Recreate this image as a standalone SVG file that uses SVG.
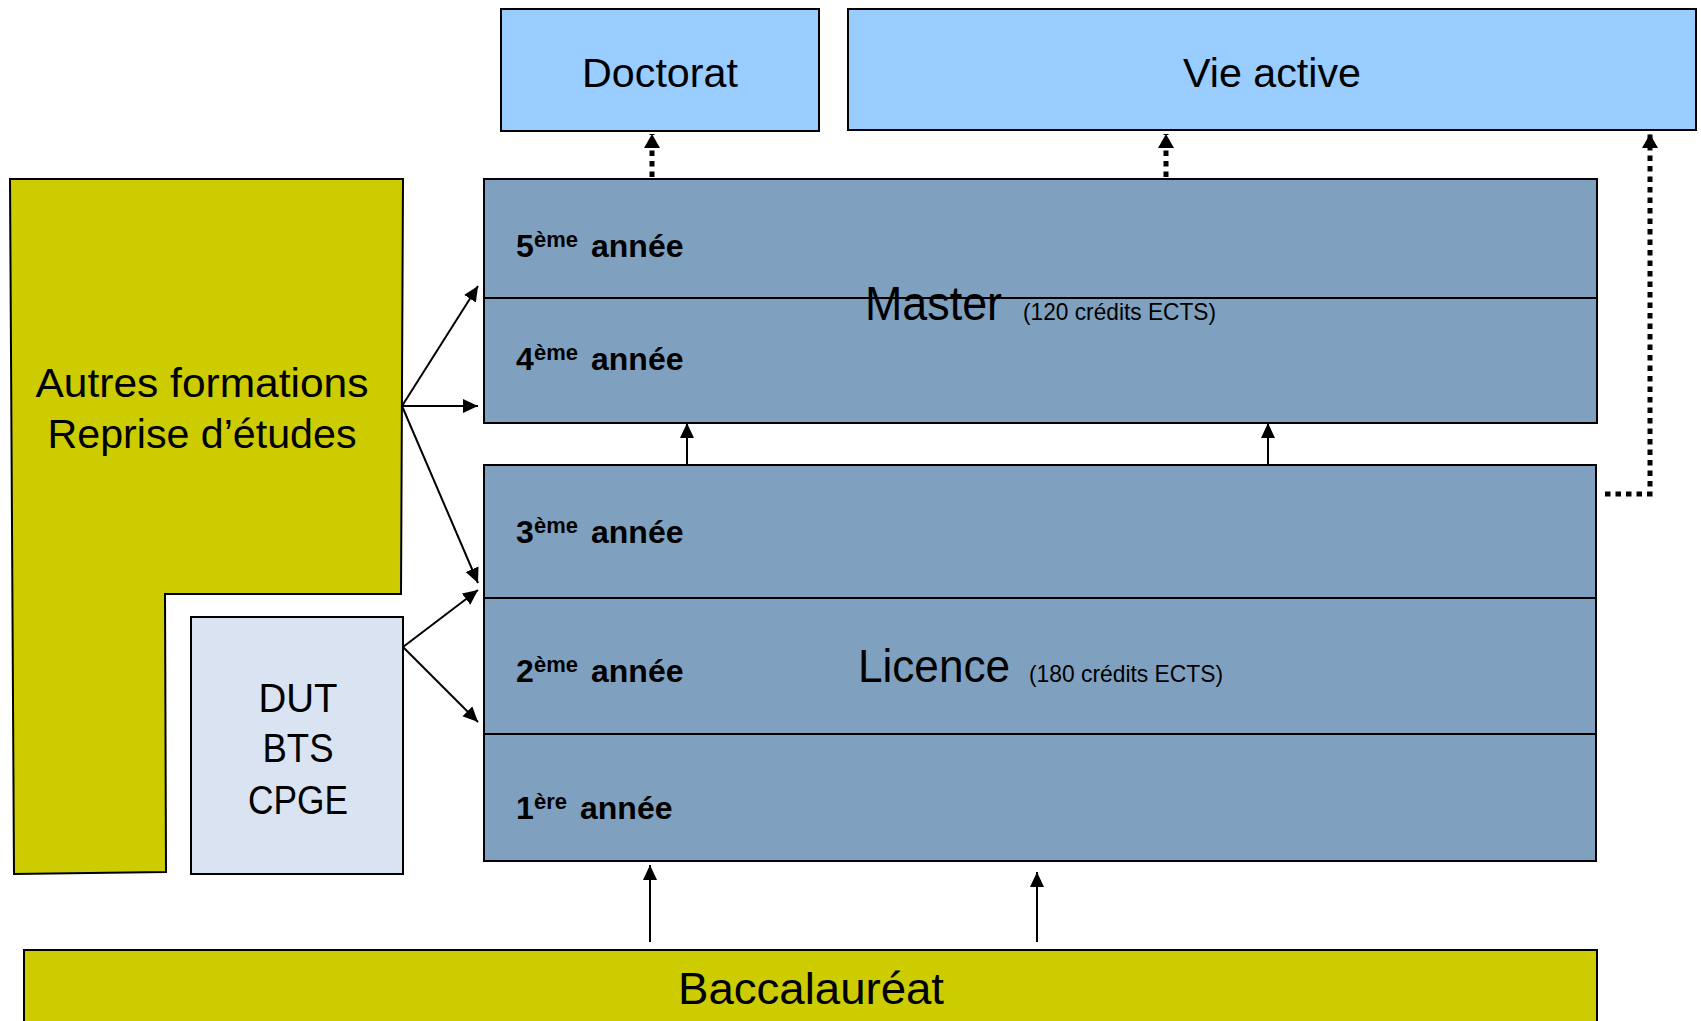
<svg xmlns="http://www.w3.org/2000/svg" width="1701" height="1021" viewBox="0 0 1701 1021">
  <style>
    .box { stroke: #000; stroke-width: 2; }
    .yellow { fill: #CCCC00; }
    .blue { fill: #7FA0BF; }
    .sky { fill: #99CCFF; }
    .pale { fill: #DAE3F1; }
    .t { font-family: "Liberation Sans", Arial, sans-serif; fill: #000; }
    .yr { font-family: "Liberation Sans", Arial, sans-serif; font-weight: bold; font-size: 32px; fill: #000; }
    .sup { font-size: 22px; }
    .div { stroke: #000; stroke-width: 2; fill: none; }
    .arr { stroke: #000; stroke-width: 2; fill: none; marker-end: url(#ah); }
    .dot { stroke: #000; stroke-width: 5; fill: none; stroke-dasharray: 5.5 5; }
  </style>
  <defs>
    <marker id="ah" markerUnits="userSpaceOnUse" markerWidth="16" markerHeight="16" refX="15" refY="7" orient="auto">
      <path d="M0,0 L15,7 L0,14 z" fill="#000"/>
    </marker>
    <marker id="dh" markerUnits="userSpaceOnUse" markerWidth="18" markerHeight="18" refX="14" refY="8" orient="auto">
      <path d="M0,0 L14,8 L0,16 z" fill="#000"/>
    </marker>
  </defs>
  <rect width="1701" height="1021" fill="#fff"/>

  <g id="doctorat">
    <rect class="box sky" x="501" y="9" width="318" height="122"/>
    <text class="t" x="660" y="87" font-size="41" text-anchor="middle" textLength="156" lengthAdjust="spacingAndGlyphs">Doctorat</text>
  </g>
  <g id="vie-active">
    <rect class="box sky" x="848" y="9" width="848" height="121"/>
    <text class="t" x="1272" y="87" font-size="41" text-anchor="middle" textLength="178" lengthAdjust="spacingAndGlyphs">Vie active</text>
  </g>

  <g id="autres-formations">
    <polygon class="box yellow" points="10,179 403,179 401,594 165,594 166,872 14,874"/>
    <text class="t" x="202" y="397" font-size="40" text-anchor="middle" textLength="333" lengthAdjust="spacingAndGlyphs">Autres formations</text>
    <text class="t" x="202" y="448" font-size="40" text-anchor="middle" textLength="309" lengthAdjust="spacingAndGlyphs">Reprise d’études</text>
  </g>

  <g id="dut-bts-cpge">
    <rect class="box pale" x="191" y="617" width="212" height="257"/>
    <text class="t" x="298" y="712" font-size="41" text-anchor="middle" textLength="79" lengthAdjust="spacingAndGlyphs">DUT</text>
    <text class="t" x="298" y="762" font-size="41" text-anchor="middle" textLength="71" lengthAdjust="spacingAndGlyphs">BTS</text>
    <text class="t" x="298" y="814" font-size="41" text-anchor="middle" textLength="100" lengthAdjust="spacingAndGlyphs">CPGE</text>
  </g>

  <g id="master">
    <rect class="box blue" x="484" y="179" width="1113" height="244"/>
    <text class="t" x="865" y="320" font-size="48" textLength="137" lengthAdjust="spacingAndGlyphs">Master</text>
    <text class="t" x="1023" y="320" font-size="24" textLength="193" lengthAdjust="spacingAndGlyphs">(120 crédits ECTS)</text>
    <line class="div" x1="484" y1="298" x2="1597" y2="298"/>
    <text class="yr" y="257"><tspan x="516">5</tspan><tspan class="sup" x="534" dy="-10">ème</tspan><tspan x="591" dy="10">année</tspan></text>
    <text class="yr" y="370"><tspan x="516">4</tspan><tspan class="sup" x="534" dy="-10">ème</tspan><tspan x="591" dy="10">année</tspan></text>
  </g>

  <g id="licence">
    <rect class="box blue" x="484" y="465" width="1112" height="396"/>
    <line class="div" x1="484" y1="598" x2="1596" y2="598"/>
    <line class="div" x1="484" y1="734" x2="1596" y2="734"/>
    <text class="t" x="858" y="682" font-size="46" textLength="152" lengthAdjust="spacingAndGlyphs">Licence</text>
    <text class="t" x="1029" y="682" font-size="24" textLength="194" lengthAdjust="spacingAndGlyphs">(180 crédits ECTS)</text>
    <text class="yr" y="543"><tspan x="516">3</tspan><tspan class="sup" x="534" dy="-10">ème</tspan><tspan x="591" dy="10">année</tspan></text>
    <text class="yr" y="682"><tspan x="516">2</tspan><tspan class="sup" x="534" dy="-10">ème</tspan><tspan x="591" dy="10">année</tspan></text>
    <text class="yr" y="819"><tspan x="516">1</tspan><tspan class="sup" x="534" dy="-10">ère</tspan><tspan x="580" dy="10">année</tspan></text>
  </g>

  <g id="baccalaureat">
    <rect class="box yellow" x="24" y="950" width="1573" height="90"/>
    <text class="t" x="811" y="1004" font-size="44" text-anchor="middle" textLength="266" lengthAdjust="spacingAndGlyphs">Baccalauréat</text>
  </g>

  <g id="connectors">
    <line class="arr" x1="650" y1="942" x2="650" y2="865"/>
    <line class="arr" x1="1037" y1="942" x2="1037" y2="872"/>
    <line class="arr" x1="687" y1="465" x2="687" y2="423"/>
    <line class="arr" x1="1268" y1="465" x2="1268" y2="423"/>
    <line class="arr" x1="402" y1="406" x2="478" y2="286"/>
    <line class="arr" x1="402" y1="406" x2="478" y2="406"/>
    <line class="arr" x1="402" y1="406" x2="478" y2="583"/>
    <line class="arr" x1="403" y1="647" x2="478" y2="590"/>
    <line class="arr" x1="403" y1="647" x2="478" y2="722"/>
    <line class="dot" x1="652" y1="177" x2="652" y2="134" marker-end="url(#dh)"/>
    <line class="dot" x1="1166" y1="177" x2="1166" y2="134" marker-end="url(#dh)"/>
    <polyline class="dot" points="1605,494 1650,494 1650,134" marker-end="url(#dh)"/>
  </g>
</svg>
